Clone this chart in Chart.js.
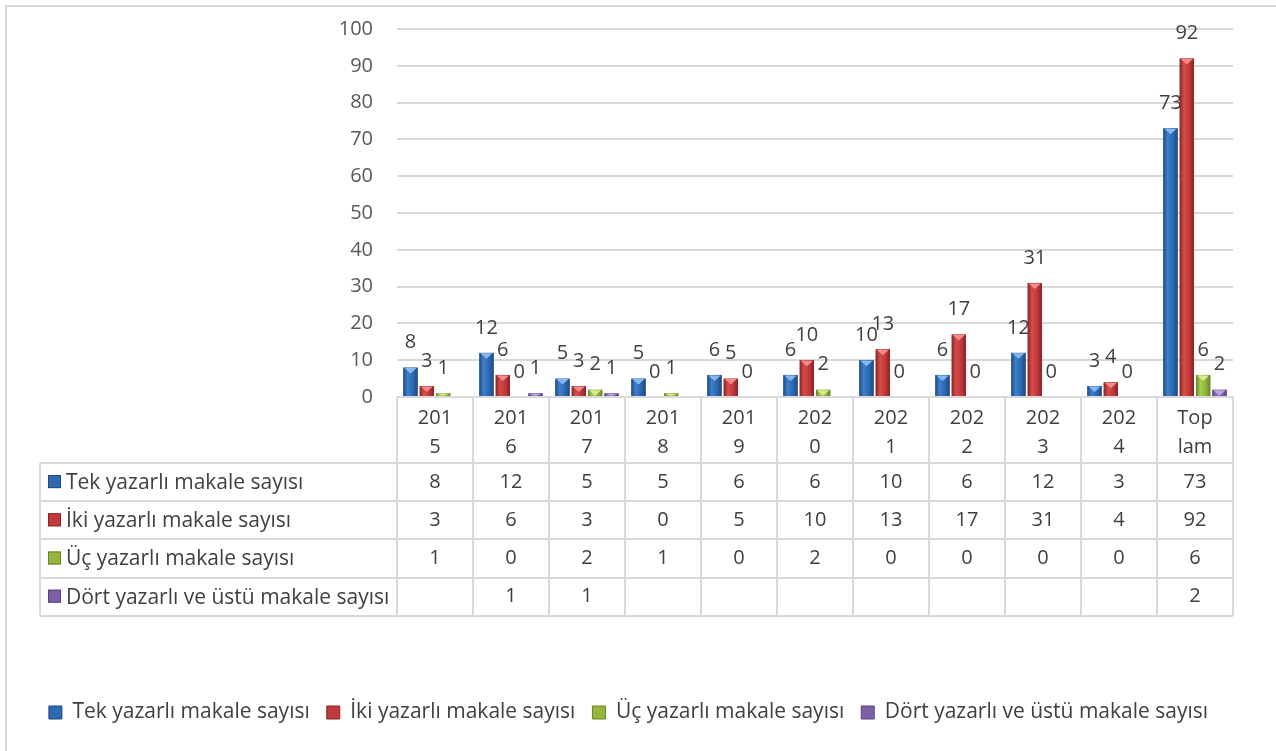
<!DOCTYPE html>
<html>
<head>
<meta charset="utf-8">
<script src="https://cdn.jsdelivr.net/npm/chart.js@4.4.1/dist/chart.umd.min.js"></script>
<style>
    html, body { margin: 0; padding: 0; background: #fff; }
    #wrap { width: 1276px; height: 751px; }
</style>
</head>
<body>
<div id="wrap"><canvas id="authors-chart" width="1276" height="751"></canvas></div>
<script>
const categories = ['2015', '2016', '2017', '2018', '2019', '2020', '2021', '2022', '2023', '2024', 'Toplam'];
const tickLabels = [['201', '5'], ['201', '6'], ['201', '7'], ['201', '8'], ['201', '9'], ['202', '0'],
                    ['202', '1'], ['202', '2'], ['202', '3'], ['202', '4'], ['Top', 'lam']];
const singleAuthor = [8, 12, 5, 5, 6, 6, 10, 6, 12, 3, 73];
const twoAuthors = [3, 6, 3, 0, 5, 10, 13, 17, 31, 4, 92];
const threeAuthors = [1, 0, 2, 1, 0, 2, 0, 0, 0, 0, 6];
const fourPlusAuthors = [null, 1, 1, null, null, null, null, null, null, null, 2];
const yTicks = [0, 10, 20, 30, 40, 50, 60, 70, 80, 90, 100];

const seriesNames = ['Tek yazarlı makale sayısı', 'İki yazarlı makale sayısı',
                     'Üç yazarlı makale sayısı', 'Dört yazarlı ve üstü makale sayısı'];
const seriesColors = ['#2f69b0', '#c0393b', '#93b63b', '#7d5fa6'];
const seriesEdges = ['#1d4a82', '#8a2224', '#66832a', '#5a4280'];
const seriesMids = ['#3f80cf', '#d64c4b', '#a8cc4c', '#9377bf'];
const seriesLights = ['#86b7ee', '#f28a8a', '#d4ec8c', '#bda4e0'];

const FONT = '"Open Sans", "DejaVu Sans", sans-serif';
const textColor = '#404040';
const lineColor = '#d9d9d9';

// outer frame (top + left edge like the original)
const framePlugin = {
    id: 'frame',
    beforeDraw(chart) {
        const ctx = chart.ctx;
        ctx.save();
        ctx.strokeStyle = lineColor;
        ctx.lineWidth = 2;
        ctx.beginPath();
        ctx.moveTo(6, chart.height);
        ctx.lineTo(6, 6);
        ctx.lineTo(chart.width, 6);
        ctx.stroke();
        ctx.restore();
    }
};

// 3d-ish shading on the bars, bevel triangle on top, value labels
const barDecoPlugin = {
    id: 'barDeco',
    afterDatasetsDraw(chart) {
        const ctx = chart.ctx;
        ctx.save();
        chart.data.datasets.forEach((ds, di) => {
            const meta = chart.getDatasetMeta(di);
            meta.data.forEach((bar, i) => {
                const v = ds.data[i];
                if (v === null || v === undefined) return;
                const h = bar.base - bar.y;
                const left = bar.x - bar.width / 2;
                if (h > 0.5) {
                    const g = ctx.createLinearGradient(left, 0, left + bar.width, 0);
                    g.addColorStop(0, seriesEdges[di]);
                    g.addColorStop(0.3, seriesMids[di]);
                    g.addColorStop(0.65, seriesColors[di]);
                    g.addColorStop(1, seriesEdges[di]);
                    ctx.fillStyle = g;
                    ctx.fillRect(left, bar.y, bar.width, h);
                    const th = Math.min(6, h);
                    ctx.fillStyle = seriesLights[di];
                    ctx.beginPath();
                    ctx.moveTo(left + 1, bar.y + 0.5);
                    ctx.lineTo(left + bar.width - 1, bar.y + 0.5);
                    ctx.lineTo(bar.x, bar.y + th);
                    ctx.closePath();
                    ctx.fill();
                }
                ctx.fillStyle = textColor;
                ctx.font = '20px ' + FONT;
                ctx.textAlign = 'center';
                ctx.textBaseline = 'middle';
                ctx.fillText(String(v), bar.x, bar.y - 25);
            });
        });
        ctx.restore();
    }
};

// data table under the plot
const tablePlugin = {
    id: 'dataTable',
    afterDraw(chart) {
        const ctx = chart.ctx;
        const x = chart.scales.x;
        const top = chart.chartArea.bottom;
        const colW = (x.right - x.left) / categories.length;
        const headerH = 66;
        const rowH = 38.2;
        const tableLeft = 40;
        const rows = [singleAuthor, twoAuthors, threeAuthors, fourPlusAuthors];
        const bottom = top + headerH + rows.length * rowH;

        ctx.save();
        ctx.strokeStyle = lineColor;
        ctx.lineWidth = 2;
        ctx.beginPath();
        for (let i = 0; i <= categories.length; i++) {
            const cx = Math.round(x.left + i * colW);
            ctx.moveTo(cx, top);
            ctx.lineTo(cx, bottom);
        }
        ctx.moveTo(tableLeft, top + headerH);
        ctx.lineTo(tableLeft, bottom);
        ctx.moveTo(x.left, top);
        ctx.lineTo(x.right, top);
        for (let r = 0; r <= rows.length; r++) {
            const ry = Math.round(top + headerH + r * rowH);
            ctx.moveTo(tableLeft, ry);
            ctx.lineTo(x.right, ry);
        }
        ctx.stroke();

        ctx.font = '20px ' + FONT;
        ctx.fillStyle = textColor;
        ctx.textAlign = 'center';
        ctx.textBaseline = 'middle';
        tickLabels.forEach((lines, i) => {
            const cx = x.getPixelForValue(i);
            ctx.fillText(lines[0], cx, top + 21);
            ctx.fillText(lines[1], cx, top + 50);
            rows.forEach((vals, r) => {
                const v = vals[i];
                if (v === null) return;
                ctx.fillText(String(v), cx, top + headerH + r * rowH + rowH / 2);
            });
        });

        ctx.textAlign = 'left';
        ctx.font = '21px ' + FONT;
        rows.forEach((vals, r) => {
            const cy = top + headerH + r * rowH + rowH / 2;
            ctx.fillStyle = seriesColors[r];
            ctx.fillRect(48, cy - 7, 13, 13);
            ctx.strokeStyle = seriesEdges[r];
            ctx.lineWidth = 1;
            ctx.strokeRect(48.5, cy - 6.5, 12, 12);
            ctx.fillStyle = textColor;
            ctx.fillText(seriesNames[r], 66, cy + 1);
        });
        ctx.restore();
    }
};

const seriesData = [singleAuthor, twoAuthors, threeAuthors, fourPlusAuthors];

const authorsChart = new Chart(document.getElementById('authors-chart'), {
    type: 'bar',
    data: {
        labels: categories,
        datasets: seriesData.map((d, i) => ({
            label: seriesNames[i],
            data: d,
            backgroundColor: seriesColors[i],
            borderColor: seriesEdges[i],
            borderWidth: 1,
            categoryPercentage: 0.86,
            barPercentage: 0.88
        }))
    },
    options: {
        responsive: false,
        animation: false,
        events: [],
        layout: {
            padding: { left: 24, right: 43, top: 29, bottom: 18 }
        },
        scales: {
            x: {
                grid: { display: false },
                border: { display: false },
                ticks: { display: false },
                afterFit(scale) { scale.height = 288; }
            },
            y: {
                min: 0,
                max: 100,
                afterBuildTicks(scale) { scale.ticks = yTicks.map(v => ({ value: v })); },
                // invisible tick marks give the label gap (ticks.padding would also pad the top)
                grid: { color: lineColor, lineWidth: 2, drawTicks: true, tickLength: 24, tickColor: 'rgba(0,0,0,0)' },
                border: { display: false },
                ticks: {
                    padding: 0,
                    color: '#595959',
                    font: { family: FONT, size: 20 }
                },
                afterFit(scale) { scale.width = 373; }
            }
        },
        plugins: {
            legend: {
                position: 'bottom',
                labels: {
                    boxWidth: 13,
                    boxHeight: 13,
                    padding: 17,
                    color: textColor,
                    font: { family: FONT, size: 21 }
                }
            },
            tooltip: { enabled: false }
        }
    },
    plugins: [framePlugin, barDecoPlugin, tablePlugin]
});
</script>
</body>
</html>
